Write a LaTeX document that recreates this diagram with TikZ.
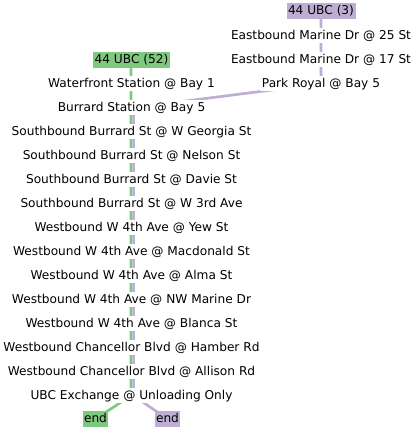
\documentclass[tikz,border=0pt]{standalone}
\usepackage{fontspec}
\setmainfont{DejaVu Sans}
\usetikzlibrary{backgrounds}
\definecolor{rgreen}{HTML}{7FC97F}
\definecolor{rpurple}{HTML}{BEAED4}
\begin{document}
\begin{tikzpicture}[x=1pt,y=-1pt,
  every node/.style={font=\fontsize{12.17}{14}\selectfont, inner xsep=1.5pt, inner ysep=1.5pt, text height=9.7pt, text depth=2.5pt},
  stop/.style={fill=white},
  gtag/.style={fill=rgreen},
  ptag/.style={fill=rpurple},
  gline/.style={draw=rgreen, line width=2.7pt},
  pline/.style={draw=rpurple, line width=2.7pt}]
\useasboundingbox (0,0) rectangle (417,432);
\def\cx{131.5}
\node[gtag] (r52) at (\cx,60) {44 UBC (52)};
\node[stop] (s1) at (\cx,83.7) {Waterfront Station @ Bay 1};
\node[stop] (s2) at (\cx,107.7) {Burrard Station @ Bay 5};
\node[stop] (s3) at (\cx,131.7) {Southbound Burrard St @ W Georgia St};
\node[stop] (s4) at (\cx,155.7) {Southbound Burrard St @ Nelson St};
\node[stop] (s5) at (\cx,179.7) {Southbound Burrard St @ Davie St};
\node[stop] (s6) at (\cx,203.7) {Southbound Burrard St @ W 3rd Ave};
\node[stop] (s7) at (\cx,227.7) {Westbound W 4th Ave @ Yew St};
\node[stop] (s8) at (\cx,251.7) {Westbound W 4th Ave @ Macdonald St};
\node[stop] (s9) at (\cx,275.7) {Westbound W 4th Ave @ Alma St};
\node[stop] (s10) at (\cx,299.7) {Westbound W 4th Ave @ NW Marine Dr};
\node[stop] (s11) at (\cx,323.7) {Westbound W 4th Ave @ Blanca St};
\node[stop] (s12) at (\cx,347.7) {Westbound Chancellor Blvd @ Hamber Rd};
\node[stop] (s13) at (\cx,371.7) {Westbound Chancellor Blvd @ Allison Rd};
\node[stop] (s14) at (\cx,395.7) {UBC Exchange @ Unloading Only};
\node[gtag] (eg) at (95.5,419) {end};
\node[ptag] (ep) at (167.5,419) {end};
\node[ptag] (r3) at (321,11) {44 UBC (3)};
\node[stop] (p1) at (321,35.7) {Eastbound Marine Dr @ 25 St};
\node[stop] (p2) at (321,59.7) {Eastbound Marine Dr @ 17 St};
\node[stop] (p3) at (321,83.7) {Park Royal @ Bay 5};
\begin{scope}[on background layer]
\draw[gline] ([xshift=-0.6pt]r52.center) -- ([xshift=-0.6pt]s1.center) -- ([xshift=-0.6pt]s2.center)
  -- ([xshift=-0.6pt]s14.center) -- (eg.center);
\draw[pline] (r3.center) -- (p1.center) -- (p2.center) -- (p3.center)
  -- ([xshift=2.1pt]s2.center) -- ([xshift=2.1pt]s14.center) -- (ep.center);
\end{scope}
\end{tikzpicture}
\end{document}
